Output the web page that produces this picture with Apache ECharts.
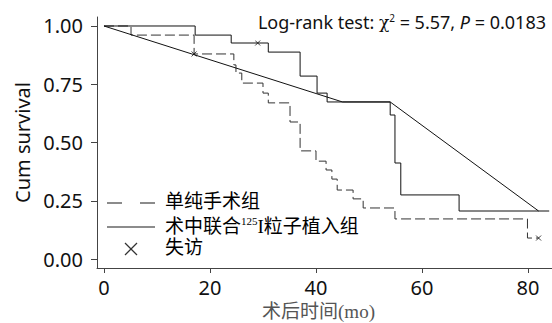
<!DOCTYPE html>
<html><head><meta charset="utf-8">
<script src="https://cdn.jsdelivr.net/npm/echarts@6/dist/echarts.min.js"></script>
<style>html,body{margin:0;padding:0;background:#fff}#c{width:552px;height:323px}</style>
</head><body><div id="c"></div>
<script>
// Group 1: 单纯手术组 (dashed) Kaplan-Meier steps
const dashedTimes = [0, 5.1, 17.0, 24.5, 24.9, 26.0, 30.0, 31.0, 35.1, 37.0, 40.0, 41.9, 43.0, 44.0, 47.0, 48.9, 54.9, 79.9, 82.0];
const dashedSurv  = [1.0, 0.961, 0.880, 0.833, 0.798, 0.755, 0.712, 0.670, 0.588, 0.464, 0.420, 0.382, 0.343, 0.296, 0.258, 0.219, 0.172, 0.090, 0.090];
// Group 2: 术中联合125I粒子植入组 (solid)
const solidTimes = [0, 17.2, 24.0, 31.0, 37.0, 40.2, 42.1, 54.0, 54.9, 56.0, 67.0, 84.0];
const solidSurv  = [1.0, 0.961, 0.927, 0.888, 0.785, 0.712, 0.674, 0.618, 0.412, 0.275, 0.206, 0.206];
// straight connecting line drawn in the figure
const lineTimes = [0, 45.0, 54.0, 82.0];
const lineSurv  = [1.0, 0.674, 0.674, 0.206];
// censored (失访) marks
const censorTimes = [17.0, 29.0, 82.0];
const censorSurv  = [0.880, 0.927, 0.090];
// ticks
const xTicks = [0, 20, 40, 60, 80];
const yTicks = [0, 0.25, 0.5, 0.75, 1.0];
// legend labels
const legendNames = ['单纯手术组', '术中联合125I粒子植入组', '失访'];

const zip = (a, b) => a.map((v, i) => [v, b[i]]);
const chart = echarts.init(document.getElementById('c'), null, {renderer: 'svg'});
const xSym = 'path://M0,0L10,10M10,0L0,10';
const axisColor = '#444';
const cjk = '"Liberation Serif", "Noto Sans CJK SC", serif';
const serif = '"Liberation Serif", serif';
const sans = '"Noto Sans", "Open Sans", sans-serif';
const legColor = '#555';
const richLeg = {
  c: {fontFamily: cjk, fontSize: 19, color: legColor, lineHeight: 23},
  s: {fontFamily: serif, fontSize: 11, color: legColor, verticalAlign: 'top', lineHeight: 12},
  t: {fontFamily: serif, fontSize: 19, color: legColor, lineHeight: 23}
};
const legText = (name, y) => ({
  type: 'text', left: 165, top: y - 11,
  style: {
    text: name === legendNames[1] ? '{c|术中联合}{s|125}{t|I}{c|粒子植入组}' : '{c|' + name + '}',
    rich: richLeg
  }
});
chart.setOption({
  animation: false,
  backgroundColor: '#fff',
  title: {
    text: 'Log-rank test: {g|χ}{sup|2} = 5.57, {it|P} = 0.0183',
    right: 1, top: 8,
    textStyle: {
      fontFamily: sans, fontSize: 18, fontWeight: 'normal', color: '#111',
      rich: {
        g: {fontFamily: '"DejaVu Serif", serif', fontSize: 17, color: '#111'},
        sup: {fontFamily: sans, fontSize: 10, color: '#111', verticalAlign: 'top', lineHeight: 10},
        it: {fontFamily: sans, fontSize: 18, fontStyle: 'italic', color: '#111'}
      }
    }
  },
  grid: {left: 97, right: 0, top: 17, bottom: 55, containLabel: false, outerBoundsMode: 'none'},
  xAxis: {
    type: 'value', min: -1.32, max: 84.53,
    splitLine: {show: false},
    axisLine: {show: true, onZero: false, lineStyle: {color: axisColor, width: 1}},
    axisTick: {show: true, length: 5, customValues: xTicks, lineStyle: {color: axisColor}},
    axisLabel: {customValues: xTicks, fontFamily: sans, fontSize: 20, color: '#111', margin: 9},
    name: '{a|术后时间}{b|(mo)}', nameLocation: 'middle', nameGap: 31,
    nameTextStyle: {padding: [0, 12, 0, 0], rich: {
      a: {fontFamily: cjk, fontSize: 19, color: '#555', lineHeight: 20},
      b: {fontFamily: serif, fontSize: 19, color: '#555', lineHeight: 20}
    }}
  },
  yAxis: {
    type: 'value', min: -0.0386, max: 1.0386,
    splitLine: {show: false},
    axisLine: {show: true, onZero: false, lineStyle: {color: axisColor, width: 1}},
    axisTick: {show: true, length: 6, customValues: yTicks, lineStyle: {color: axisColor}},
    axisLabel: {customValues: yTicks, fontFamily: sans, fontSize: 20, color: '#111', margin: 14,
      formatter: v => v.toFixed(2)},
    name: 'Cum survival', nameLocation: 'middle', nameGap: 61,
    nameTextStyle: {fontFamily: sans, fontSize: 20, color: '#111'}
  },
  graphic: [
    {type: 'line', shape: {x1: 107, y1: 203, x2: 155, y2: 203},
     style: {stroke: '#666', lineWidth: 1.5, lineDash: [15, 18]}},
    {type: 'line', shape: {x1: 107, y1: 227, x2: 155, y2: 227},
     style: {stroke: '#666', lineWidth: 1.5}},
    {type: 'polyline', shape: {points: [[125, 243], [137, 255]]}, style: {stroke: '#333', lineWidth: 1.2, fill: null}},
    {type: 'polyline', shape: {points: [[137, 243], [125, 255]]}, style: {stroke: '#333', lineWidth: 1.2, fill: null}},
    legText(legendNames[0], 203),
    legText(legendNames[1], 226),
    legText(legendNames[2], 249)
  ],
  series: [
    {name: legendNames[0], type: 'line', step: 'end', symbol: 'none', data: zip(dashedTimes, dashedSurv),
     lineStyle: {color: '#333', width: 1, type: [10, 4]}, z: 3},
    {name: legendNames[1], type: 'line', step: 'end', symbol: 'none', data: zip(solidTimes, solidSurv),
     lineStyle: {color: '#111', width: 1}, z: 4},
    {name: 'line', type: 'line', symbol: 'none', data: zip(lineTimes, lineSurv),
     lineStyle: {color: '#111', width: 1}, z: 4},
    {name: legendNames[2], type: 'scatter', symbol: xSym, symbolSize: 5, data: zip(censorTimes, censorSurv),
     itemStyle: {color: 'transparent', borderColor: '#111', borderWidth: 1}, z: 5}
  ]
});
</script></body></html>
